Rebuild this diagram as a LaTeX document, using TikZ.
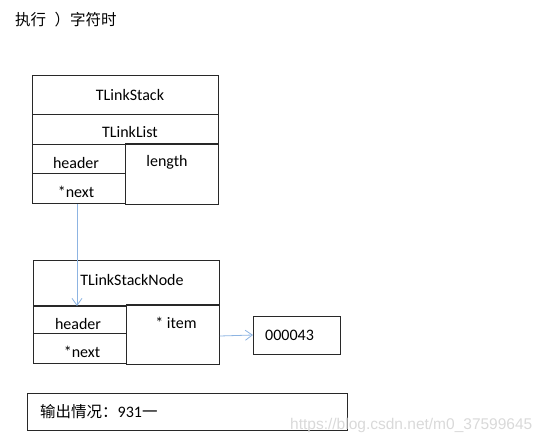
\documentclass[tikz,border=0pt]{standalone}
\usepackage{fontspec}
\setmainfont{Carlito}
\newfontfamily\cjk{Noto Sans CJK SC}
\newfontfamily\wmfont{Liberation Sans}
\usetikzlibrary{arrows.meta}
\definecolor{lnk}{RGB}{141,180,226}
\definecolor{edge}{RGB}{40,40,40}
\begin{document}
\begin{tikzpicture}[x=1pt,y=-1pt,
  box/.style={draw=edge,line width=0.9pt,rectangle,inner sep=0pt,anchor=north west},
  txt/.style={inner sep=0pt,font=\fontsize{16}{18}\selectfont},
  ptr/.style={draw=lnk,line width=0.8pt,-{Straight Barb[length=7pt,width=10pt,line width=0.8pt]}}]
\useasboundingbox (0,0) rectangle (546,444);
\node[txt,anchor=west,font=\cjk\fontsize{15.5}{17}\selectfont] (title) at (15,20) {执行\hspace{0.55em}）字符时};
% top structure
\node[box,minimum width=186pt,minimum height=39pt] (stack) at (32,75) {};
\node[box,minimum width=186pt,minimum height=30pt] (list) at (32,114) {};
\node[box,minimum width=93pt,minimum height=29pt] (head1) at (32,144) {};
\node[box,minimum width=93pt,minimum height=30pt] (next1) at (32,173) {};
\node[box,minimum width=93pt,minimum height=61pt] (len) at (125,143) {};
\node[txt] (tstack) at (130,95) {TLinkStack};
\node[txt] (tlist) at (130,132) {TLinkList};
\node[txt] (thead1) at (76,163) {header};
\node[txt] (tlen) at (167,162) {length};
\node[txt] (tnext1) at (76,192) {*next};
% bottom structure
\node[box,minimum width=186pt,minimum height=45pt] (node) at (33,260) {};
\node[box,minimum width=93pt,minimum height=27pt] (head2) at (33,306) {};
\node[box,minimum width=93pt,minimum height=30pt] (next2) at (33,333) {};
\node[box,minimum width=93pt,minimum height=60pt] (item) at (126,304) {};
\node[txt] (tnode) at (132,280) {TLinkStackNode};
\node[txt] (thead2) at (78,324) {header};
\node[txt] (tnext2) at (82,352) {*next};
\node[txt] (titem) at (176,323) {* item};
% data box
\node[box,minimum width=87pt,minimum height=38pt] (data) at (253,316) {};
\node[txt,anchor=west] (tdata) at (265,335) {000043};
% pointers
\coordinate (p1) at (77,204);
\coordinate (p2) at (77,306);
\draw[ptr] (p1) -- (p2);
\draw[ptr] (item.east |- 0,336) -- (data.west |- 0,335);
% output box
\node[box,minimum width=320pt,minimum height=37pt] (out) at (27,393) {};
\node[txt,anchor=west] (tout) at (40,412) {{\cjk\fontsize{15.5}{17}\selectfont 输出情况：}931{\cjk\fontsize{15.5}{17}\selectfont 一}};
% watermark
\node[inner sep=0pt,anchor=west,text=gray!30,font=\wmfont\fontsize{15.5}{17}\selectfont] (wm) at (290,425) {https://blog.csdn.net/m0\_37599645};
\end{tikzpicture}
\end{document}
